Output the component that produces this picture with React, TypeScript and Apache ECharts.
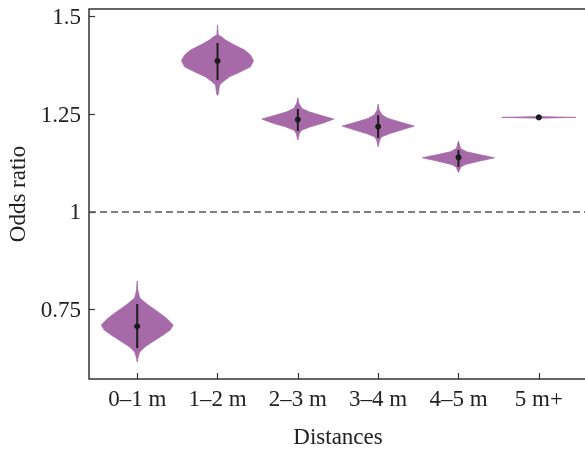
import React, { useEffect, useRef } from "react";
import * as echarts from "echarts";

const categories = ["0–1 m", "1–2 m", "2–3 m", "3–4 m", "4–5 m", "5 m+"];
const medians = [0.707, 1.386, 1.236, 1.218, 1.139, 1.2416];
const ciLow = [0.651, 1.337, 1.207, 1.189, 1.115, 1.2416];
const ciHigh = [0.764, 1.432, 1.263, 1.247, 1.158, 1.2416];
const yTicks = [0.75, 1, 1.25, 1.5];
const xTicks = [0, 1, 2, 3, 4, 5];

// violin outlines: [odds ratio, half width in category units]
const violin0 = [
  [0.8227, 0], [0.7996, 0.008], [0.7792, 0.031], [0.7613, 0.137], [0.7434, 0.261],
  [0.728, 0.361], [0.7101, 0.448], [0.6973, 0.41], [0.6845, 0.323], [0.6666, 0.187],
  [0.6538, 0.093], [0.641, 0.031], [0.6257, 0.008], [0.6154, 0],
];
const violin1 = [
  [1.4777, 0], [1.4522, 0.008], [1.4478, 0.05], [1.4394, 0.1], [1.4266, 0.211],
  [1.4138, 0.336], [1.4011, 0.41], [1.3864, 0.448], [1.371, 0.41], [1.3582, 0.286],
  [1.3454, 0.149], [1.3327, 0.068], [1.3242, 0.025], [1.3, 0.008], [1.2986, 0],
];
const violin2 = [
  [1.2917, 0], [1.2781, 0.012], [1.2646, 0.05], [1.2559, 0.137], [1.2474, 0.274],
  [1.2372, 0.448], [1.2262, 0.3], [1.2175, 0.155], [1.209, 0.05], [1.2006, 0.019], [1.1834, 0],
];
const violin3 = [
  [1.2756, 0], [1.2602, 0.012], [1.2474, 0.05], [1.239, 0.124], [1.2303, 0.261],
  [1.2193, 0.448], [1.209, 0.286], [1.2006, 0.149], [1.1919, 0.044], [1.1835, 0.019], [1.1663, 0],
];
const violin4 = [
  [1.1809, 0], [1.1622, 0.025], [1.1535, 0.1], [1.1451, 0.286], [1.1382, 0.448],
  [1.1297, 0.261], [1.1213, 0.087], [1.1151, 0.031], [1.1008, 0],
];
const violin5 = [
  [1.2436, 0], [1.2416, 0.46], [1.2396, 0],
];
const violins = [violin0, violin1, violin2, violin3, violin4, violin5];

const FONT = "Liberation Serif";
const TEXT = "#222";

export default function App() {
  const ref = useRef<HTMLDivElement>(null);
  useEffect(() => {
    if (!ref.current) return;
    const chart = echarts.init(ref.current, null, { renderer: "svg" });
    chart.setOption({
      animation: false,
      textStyle: { fontFamily: FONT, color: TEXT },
      grid: {
        left: 89,
        top: 9,
        right: -2,
        bottom: 70,
        containLabel: false,
        outerBoundsMode: "none",
        show: true,
        borderColor: "#333",
        borderWidth: 1.5,
        backgroundColor: "transparent",
      },
      xAxis: {
        type: "value",
        min: -0.6,
        max: 5.6,
        splitLine: { show: false },
        axisLine: { show: false, onZero: false },
        axisTick: { show: true, inside: true, length: 6, customValues: xTicks, lineStyle: { color: "#333", width: 1.2 } },
        axisLabel: {
          customValues: xTicks,
          formatter: (v: number) => categories[Math.round(v)] ?? "",
          fontFamily: FONT,
          fontSize: 23,
          color: TEXT,
          margin: 8,
        },
        name: "Distances",
        nameLocation: "middle",
        nameGap: 46,
        nameTextStyle: { fontFamily: FONT, fontSize: 23, color: TEXT },
      },
      yAxis: {
        type: "value",
        min: 0.572,
        max: 1.519,
        splitLine: { show: false },
        axisLine: { show: false, onZero: false },
        axisTick: { show: true, inside: true, length: 6, customValues: yTicks, lineStyle: { color: "#333", width: 1.2 } },
        axisLabel: {
          customValues: yTicks,
          formatter: (v: number) => String(v),
          fontFamily: FONT,
          fontSize: 23,
          color: TEXT,
          margin: 8,
        },
        name: "Odds ratio",
        nameLocation: "middle",
        nameGap: 60,
        nameTextStyle: { fontFamily: FONT, fontSize: 23, color: TEXT },
      },
      series: [
        {
          type: "custom",
          data: categories.map((_, i) => [i, medians[i]]),
          renderItem: (params: any, api: any) => {
            const i = params.dataIndex;
            const prof = violins[i];
            const right = prof.map(([v, w]) => api.coord([i + w, v]));
            const left = prof.slice().reverse().map(([v, w]) => api.coord([i - w, v]));
            return {
              type: "polygon",
              shape: { points: right.concat(left) },
              style: { fill: "#a66aa9", stroke: "#a66aa9", lineWidth: 0.8 },
            };
          },
          markLine: {
            silent: true,
            symbol: "none",
            label: { show: false },
            lineStyle: { color: "#555", width: 1.6, type: [7, 4] },
            data: [{ yAxis: 1 }],
          },
          z: 2,
        },
        {
          type: "custom",
          data: categories.map((_, i) => [i, medians[i]]),
          renderItem: (params: any, api: any) => {
            const i = params.dataIndex;
            const top = api.coord([i, ciHigh[i]]);
            const bot = api.coord([i, ciLow[i]]);
            const mid = api.coord([i, medians[i]]);
            return {
              type: "group",
              children: [
                {
                  type: "line",
                  shape: { x1: top[0], y1: top[1], x2: bot[0], y2: bot[1] },
                  style: { stroke: "#1e1e1e", lineWidth: 2 },
                },
                {
                  type: "circle",
                  shape: { cx: mid[0], cy: mid[1], r: 3 },
                  style: { fill: "#1a1a1a" },
                },
              ],
            };
          },
          z: 3,
        },
      ],
    });
    return () => chart.dispose();
  }, []);
  return <div ref={ref} style={{ position: "fixed", left: 0, top: 0, width: 585, height: 449 }} />;
}
